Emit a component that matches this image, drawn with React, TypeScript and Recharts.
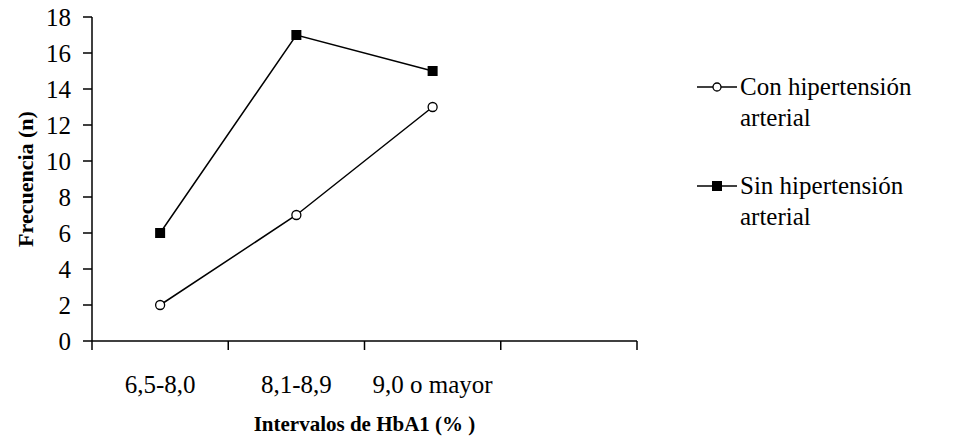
import { Legend, Line, LineChart, XAxis, YAxis } from "recharts";

const categories = ["6,5-8,0", "8,1-8,9", "9,0 o mayor", ""];
const conHta = [2, 7, 13];
const sinHta = [6, 17, 15];
const yTicks = [0, 2, 4, 6, 8, 10, 12, 14, 16, 18];

const FONT = "'Liberation Serif', 'Times New Roman', serif";

const data = categories.map((cat, i) => ({
  x: i + 0.5,
  name: cat,
  con: conHta[i],
  sin: sinHta[i],
}));

// ticks at category borders (lines) and category centers (labels)
const xTicks = categories.flatMap((_, i) => [i, i + 0.5]).concat(categories.length);

function XTick(props: any) {
  const { x, y, payload } = props;
  const v = payload.value as number;
  if (Number.isInteger(v)) {
    return <line x1={x} x2={x} y1={y} y2={y + 9} stroke="#000" strokeWidth={1.5} />;
  }
  const label = categories[Math.floor(v)];
  return (
    <text x={x} y={y + 52} textAnchor="middle" style={{ fontFamily: FONT, fontSize: 25 }} fill="#000">
      {label}
    </text>
  );
}

function SquareDot(props: any) {
  const { cx, cy } = props;
  if (cx == null || cy == null) return null;
  return <rect x={cx - 5} y={cy - 5} width={10} height={10} fill="#000" />;
}

function LegendIcon({ kind }: { kind: string }) {
  return (
    <svg width={40} height={12} style={{ flex: "none", marginTop: 10 }}>
      <line x1={0} x2={40} y1={6} y2={6} stroke="#000" strokeWidth={1.5} />
      {kind === "con" ? (
        <circle cx={20} cy={6} r={4} fill="#fff" stroke="#000" strokeWidth={1.3} />
      ) : (
        <rect x={15} y={1} width={10} height={10} fill="#000" />
      )}
    </svg>
  );
}

function LegendContent(props: any) {
  const items = props.payload ?? [];
  return (
    <div style={{ fontFamily: FONT, fontSize: 25, color: "#000" }}>
      {items.map((item: any, i: number) => (
        <div
          key={item.value}
          style={{ display: "flex", alignItems: "flex-start", marginBottom: i === 0 ? 37 : 0 }}
        >
          <LegendIcon kind={item.dataKey} />
          <span style={{ marginLeft: 3, lineHeight: "31px", width: 215 }}>{item.value}</span>
        </div>
      ))}
    </div>
  );
}

export default function App() {
  return (
    <div style={{ position: "absolute", left: 0, top: 0, background: "#fff", fontFamily: FONT }}>
      <LineChart
        width={955}
        height={443}
        data={data}
        margin={{ top: 17, right: 318, bottom: 0, left: 20 }}
        style={{ fontFamily: FONT }}
      >
        <XAxis
          dataKey="x"
          type="number"
          domain={[0, categories.length]}
          ticks={xTicks}
          interval={0}
          tickLine={false}
          tickSize={0}
          tickMargin={0}
          tick={<XTick />}
          height={102}
          axisLine={{ stroke: "#000", strokeWidth: 1.5 }}
          label={{
            value: "Intervalos de HbA1 (% )",
            position: "insideBottom",
            offset: 12,
            style: { fontFamily: FONT, fontSize: 21, fontWeight: "bold", fill: "#000" },
          }}
        />
        <YAxis
          type="number"
          domain={[0, 18]}
          ticks={yTicks}
          interval={0}
          width={72}
          tickSize={9}
          tickMargin={12}
          tickLine={{ stroke: "#000", strokeWidth: 1.5 }}
          axisLine={{ stroke: "#000", strokeWidth: 1.5 }}
          tick={{ fill: "#000", fontSize: 25, style: { fontFamily: FONT } }}
          label={{
            value: "Frecuencia (n)",
            angle: -90,
            position: "insideLeft",
            offset: 5,
            style: {
              textAnchor: "middle",
              fontFamily: FONT,
              fontSize: 22,
              fontWeight: "bold",
              fill: "#000",
            },
          }}
        />
        <Legend
          layout="vertical"
          align="center"
          verticalAlign="middle"
          wrapperStyle={{ left: 697, top: 71, width: 258 }}
          content={<LegendContent />}
        />
        <Line
          dataKey="con"
          name="Con hipertensión arterial"
          stroke="#000"
          strokeWidth={1.5}
          dot={{ r: 4.5, fill: "#fff", stroke: "#000", strokeWidth: 1.3 }}
          isAnimationActive={false}
        />
        <Line
          dataKey="sin"
          name="Sin hipertensión arterial"
          stroke="#000"
          strokeWidth={1.5}
          dot={<SquareDot />}
          isAnimationActive={false}
        />
      </LineChart>
    </div>
  );
}
